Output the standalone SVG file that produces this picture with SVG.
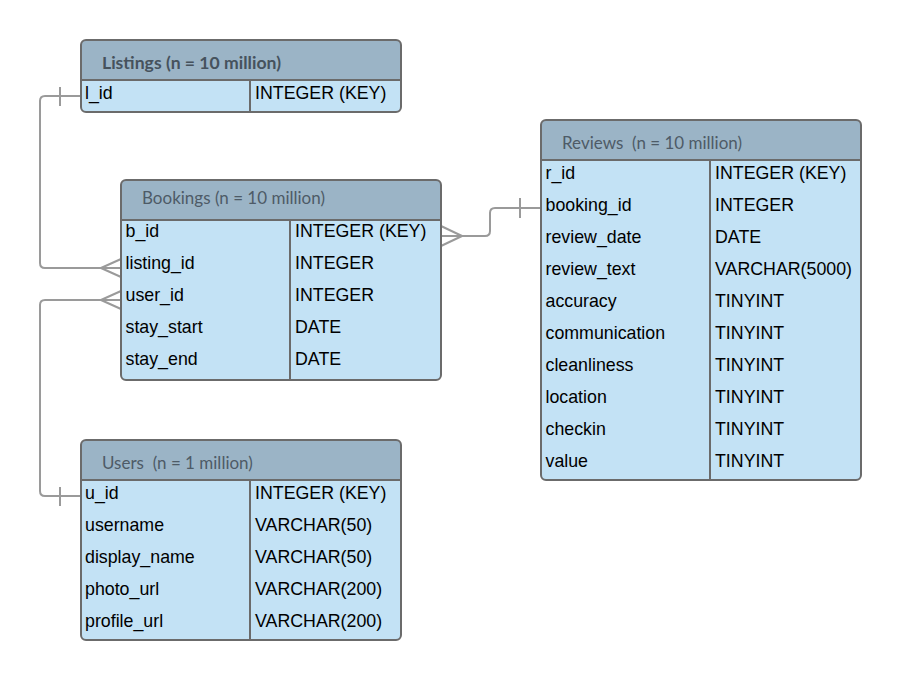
<svg xmlns="http://www.w3.org/2000/svg" width="901" height="680" viewBox="0 0 901 680">
<style>
.body{fill:#c3e2f5;}
.hdr{fill:#9bb4c6;}
.frame{fill:none;stroke:#6b6b6b;stroke-width:2;}
.sep{stroke:#6b6b6b;stroke-width:2;}
.title{font-family:Lato,"Open Sans",sans-serif;font-size:17px;fill:#4e5b67;}
.titleb{font-family:Lato,"Open Sans",sans-serif;font-size:17.6px;font-weight:bold;fill:#46525d;}
.f{font-family:"Liberation Sans",Arial,sans-serif;font-size:17.8px;fill:#000;}
.conn{fill:none;stroke:#9a9a9a;stroke-width:2;}
</style>
<rect width="901" height="680" fill="#ffffff"/>
<g id="connectors">
  <path class="conn" d="M81,96 H45 Q40,96 40,101 V263 Q40,268 45,268 H121"/>
  <path class="conn" d="M60,87 V106"/>
  <path class="conn" d="M101,268 L121,259 M101,268 L121,277"/>
  <path class="conn" d="M81,496 H45 Q40,496 40,491 V305 Q40,300 45,300 H121"/>
  <path class="conn" d="M60,487 V506"/>
  <path class="conn" d="M101,300 L121,291 M101,300 L121,309"/>
  <path class="conn" d="M441,236 H485 Q490,236 490,231 V213 Q490,208 495,208 H541"/>
  <path class="conn" d="M520,198 V218"/>
  <path class="conn" d="M462,236 L441,226 M462,236 L441,246"/>
</g>
<g id="listings">
  <rect class="body" x="81" y="40" width="320" height="72" rx="5"/>
  <path class="hdr" d="M81,80 V45 Q81,40 86,40 H396 Q401,40 401,45 V80 Z"/>
  <line class="sep" x1="81" y1="80" x2="401" y2="80"/>
  <line class="sep" x1="250" y1="80" x2="250" y2="112"/>
  <rect class="frame" x="81" y="40" width="320" height="72" rx="5"/>
  <text class="titleb" x="102" y="69">Listings (n = 10 million)</text>
  <text class="f" x="85" y="99">l_id</text>
  <text class="f" x="255" y="99">INTEGER (KEY)</text>
</g>
<g id="bookings">
  <rect class="body" x="121" y="180" width="320" height="200" rx="5"/>
  <path class="hdr" d="M121,220 V185 Q121,180 126,180 H436 Q441,180 441,185 V220 Z"/>
  <line class="sep" x1="121" y1="220" x2="441" y2="220"/>
  <line class="sep" x1="290" y1="220" x2="290" y2="380"/>
  <rect class="frame" x="121" y="180" width="320" height="200" rx="5"/>
  <text class="title" x="142" y="204">Bookings (n = 10 million)</text>
  <text class="f" x="125.5" y="237">b_id</text>
  <text class="f" x="125.5" y="269">listing_id</text>
  <text class="f" x="125.5" y="301">user_id</text>
  <text class="f" x="125.5" y="333">stay_start</text>
  <text class="f" x="125.5" y="365">stay_end</text>
  <text class="f" x="295" y="237">INTEGER (KEY)</text>
  <text class="f" x="295" y="269">INTEGER</text>
  <text class="f" x="295" y="301">INTEGER</text>
  <text class="f" x="295" y="333">DATE</text>
  <text class="f" x="295" y="365">DATE</text>
</g>
<g id="reviews">
  <rect class="body" x="541" y="120" width="320" height="360" rx="5"/>
  <path class="hdr" d="M541,160 V125 Q541,120 546,120 H856 Q861,120 861,125 V160 Z"/>
  <line class="sep" x1="541" y1="160" x2="861" y2="160"/>
  <line class="sep" x1="710" y1="160" x2="710" y2="480"/>
  <rect class="frame" x="541" y="120" width="320" height="360" rx="5"/>
  <text class="title" x="562" y="149" xml:space="preserve">Reviews  (n = 10 million)</text>
  <text class="f" x="545.5" y="179">r_id</text>
  <text class="f" x="545.5" y="211">booking_id</text>
  <text class="f" x="545.5" y="243">review_date</text>
  <text class="f" x="545.5" y="275">review_text</text>
  <text class="f" x="545.5" y="307">accuracy</text>
  <text class="f" x="545.5" y="339">communication</text>
  <text class="f" x="545.5" y="371">cleanliness</text>
  <text class="f" x="545.5" y="403">location</text>
  <text class="f" x="545.5" y="435">checkin</text>
  <text class="f" x="545.5" y="467">value</text>
  <text class="f" x="715" y="179">INTEGER (KEY)</text>
  <text class="f" x="715" y="211">INTEGER</text>
  <text class="f" x="715" y="243">DATE</text>
  <text class="f" x="715" y="275">VARCHAR(5000)</text>
  <text class="f" x="715" y="307">TINYINT</text>
  <text class="f" x="715" y="339">TINYINT</text>
  <text class="f" x="715" y="371">TINYINT</text>
  <text class="f" x="715" y="403">TINYINT</text>
  <text class="f" x="715" y="435">TINYINT</text>
  <text class="f" x="715" y="467">TINYINT</text>
</g>
<g id="users">
  <rect class="body" x="81" y="440" width="320" height="200" rx="5"/>
  <path class="hdr" d="M81,480 V445 Q81,440 86,440 H396 Q401,440 401,445 V480 Z"/>
  <line class="sep" x1="81" y1="480" x2="401" y2="480"/>
  <line class="sep" x1="250" y1="480" x2="250" y2="640"/>
  <rect class="frame" x="81" y="440" width="320" height="200" rx="5"/>
  <text class="title" x="102" y="469" xml:space="preserve">Users  (n = 1 million)</text>
  <text class="f" x="85" y="499">u_id</text>
  <text class="f" x="85" y="531">username</text>
  <text class="f" x="85" y="563">display_name</text>
  <text class="f" x="85" y="595">photo_url</text>
  <text class="f" x="85" y="627">profile_url</text>
  <text class="f" x="255" y="499">INTEGER (KEY)</text>
  <text class="f" x="255" y="531">VARCHAR(50)</text>
  <text class="f" x="255" y="563">VARCHAR(50)</text>
  <text class="f" x="255" y="595">VARCHAR(200)</text>
  <text class="f" x="255" y="627">VARCHAR(200)</text>
</g>
</svg>
